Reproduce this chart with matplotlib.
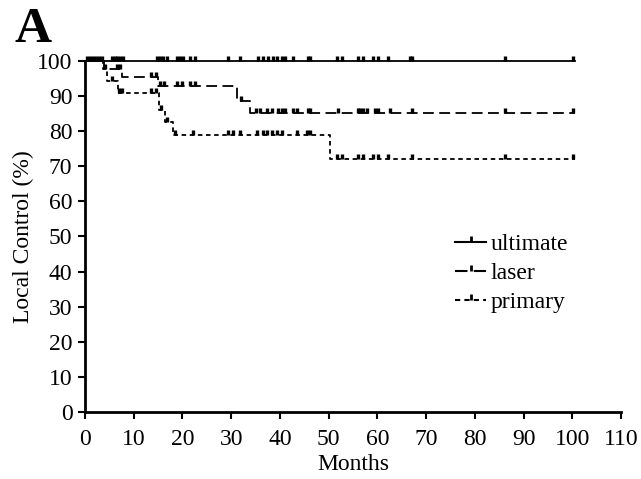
import matplotlib
matplotlib.use("Agg")
import matplotlib.pyplot as plt

plt.rcParams['font.family'] = ['Liberation Serif', 'DejaVu Serif']

# Kaplan-Meier step data (event times and levels after each event)
ult_times = [0, 100.5]
ult_vals = [100, 100]
ult_cens = [0.4, 1.0, 1.6, 2.3, 2.9, 3.5, 5.5, 6.2, 6.6, 7.2, 7.8, 14.8, 15.4, 16.0, 16.8,
            18.9, 19.5, 20.1, 21.6, 22.6, 29.4, 31.8, 35.5, 36.5, 37.6, 38.6, 39.4, 40.5,
            41.1, 42.7, 45.8, 46.2, 51.7, 52.8, 56.1, 57.1, 59.1, 60.2, 62.2, 66.7, 67.1,
            86.2, 100.2]

laser_times = [0, 4.0, 7.6, 15.0, 31.2, 33.9, 100.5]
laser_vals = [100, 97.7, 95.4, 92.8, 88.5, 85.2, 85.2]
laser_cens = [6.6, 7.2, 13.5, 14.5, 15.4, 16.2, 18.9, 19.9, 21.6, 22.6, 32.0, 35.0, 36.0,
              37.4, 38.4, 39.6, 40.5, 41.1, 42.7, 43.5, 45.8, 46.2, 52.0, 56.1, 56.5,
              57.1, 57.9, 59.5, 60.2, 62.6, 67.1, 86.2, 100.2]

prim_times = [0, 3.7, 4.6, 6.8, 15.2, 16.4, 18.0, 50.3, 100.5]
prim_vals = [100, 97.7, 94.3, 91.0, 86.0, 82.6, 79.0, 72.0, 72.0]
prim_cens = [4.2, 5.5, 7.0, 7.6, 13.5, 14.5, 15.6, 16.8, 18.5, 22.2, 29.4, 30.4, 31.8,
             35.3, 36.5, 37.4, 38.4, 39.4, 40.5, 43.5, 45.6, 46.2, 51.7, 52.8, 56.1,
             57.1, 59.1, 60.2, 62.2, 67.1, 86.2, 100.2]

labels = ["ultimate", "laser", "primary"]
xticks = list(range(0, 111, 10))
yticks = list(range(0, 101, 10))


def level_at(times, vals, t):
    v = vals[0]
    for ti, vi in zip(times, vals):
        if ti <= t:
            v = vi
    return v


fig = plt.figure(figsize=(6.41, 4.79), dpi=100)
ax = fig.add_axes([0.1326, 0.1399, 0.8362, 0.7328])

series = [
    (ult_times, ult_vals, ult_cens, '-'),
    (laser_times, laser_vals, laser_cens, (0, (6, 3))),
    (prim_times, prim_vals, prim_cens, (0, (2.5, 2))),
]

handles = []
for (times, vals, cens, ls), lab in zip(series, labels):
    ax.step(times, vals, where='post', clip_on=False, color='black', lw=1.3, linestyle=ls)
    cy = [level_at(times, vals, c) for c in cens]
    ax.plot(cens, cy, linestyle='none', marker=2, markersize=3.5, mew=2.4,
            color='black', clip_on=False)
    h, = ax.plot([], [], marker=2, markersize=4, mew=2, color='black', lw=1.5, linestyle=ls)
    handles.append(h)

ax.set_xlim(0, 110)
ax.set_ylim(0, 100)
ax.set_xticks(xticks)
ax.set_yticks(yticks)
for s in ['top', 'right']:
    ax.spines[s].set_visible(False)
for s in ['left', 'bottom']:
    ax.spines[s].set_linewidth(2)
ax.tick_params(direction='out', length=5, width=1.5, labelsize=17)
ax.tick_params(axis='x', pad=7)
ax.tick_params(axis='y', pad=4)
ax.set_xlabel("Months", fontsize=17, labelpad=3)
ax.set_ylabel("Local Control (%)", fontsize=17, labelpad=2)

leg = ax.legend(handles, labels, loc='upper left', bbox_to_anchor=(0.6735, 0.535),
                frameon=False, fontsize=17, handlelength=1.3, handletextpad=0.2,
                labelspacing=0.32, borderaxespad=0)

fig.text(0.022, 0.985, "A", fontsize=37, fontweight='bold', va='top', ha='left')

fig.savefig("out.png", dpi=100)
